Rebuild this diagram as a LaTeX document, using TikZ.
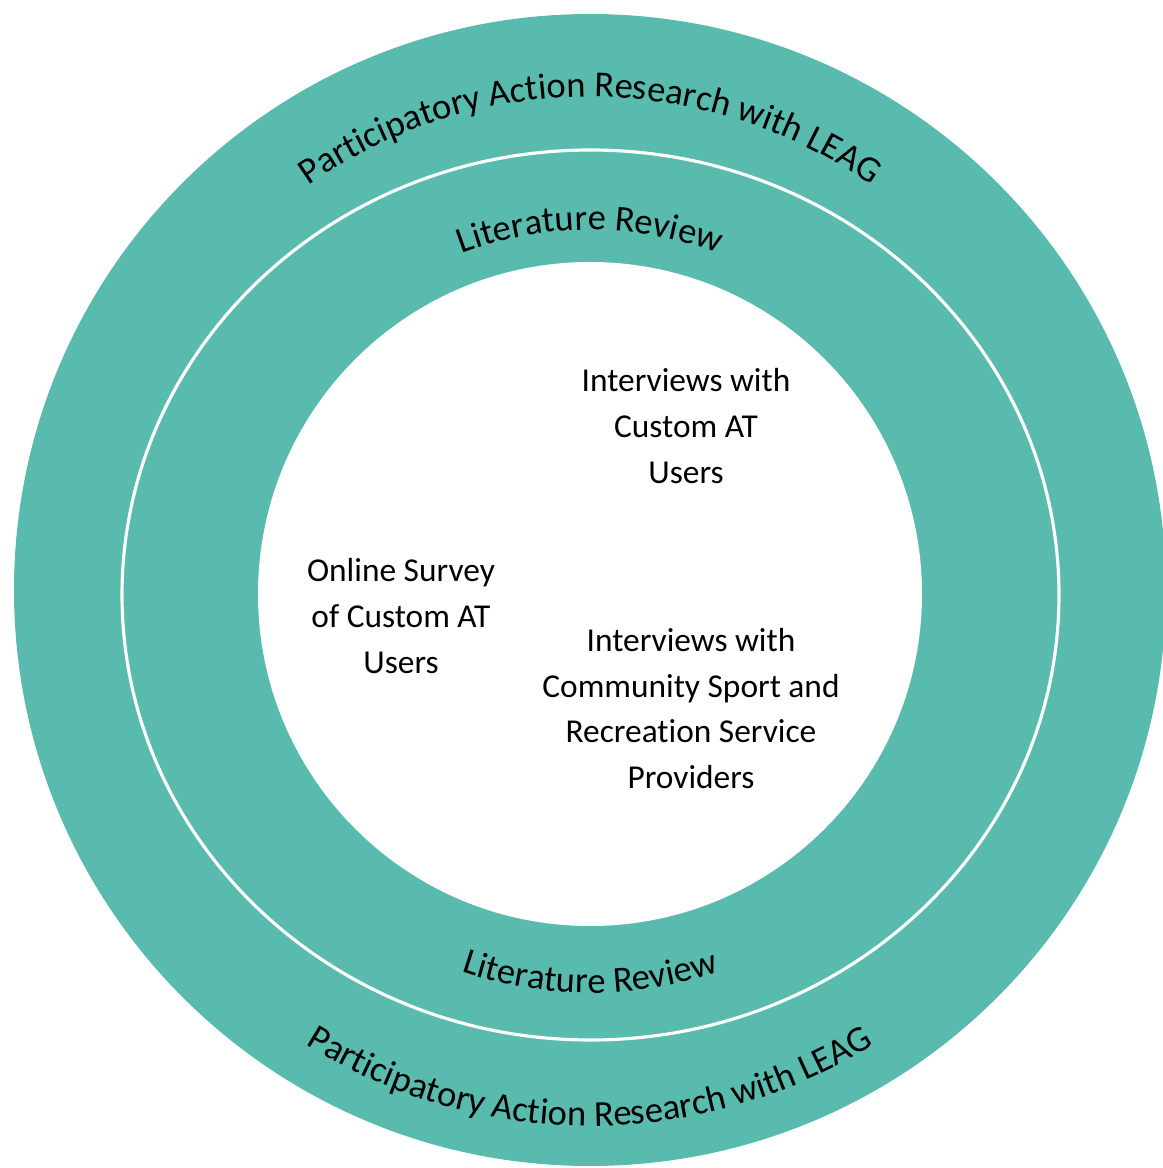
\documentclass[tikz,border=0pt]{standalone}
\usepackage{fontspec}
\setmainfont{Carlito}[Ligatures=NoCommon]
\usetikzlibrary{decorations.text}
\definecolor{ringteal}{RGB}{89,187,174}

\begin{document}
\begin{tikzpicture}[
	ringtext/.style={decorate, decoration={text along path, text align=center, text={|\fontsize{10.4}{12}\selectfont|#1}}},
	method/.style={align=center, font=\fontsize{9.5}{13}\selectfont}
	]
		%\draw [help lines] (0,0) grid (11.63,11.68);
		\useasboundingbox (0,0) rectangle (11.63,11.68);
		\coordinate (c) at (5.90,5.78);
		\coordinate (ci) at (5.90,5.74);
		%Anelli
		\fill [ringteal] (c) circle (5.76);
		\draw [white, line width=0.9pt] (5.905,5.73) ellipse (4.685 and 4.45);
		\fill [white] (ci) circle (3.32);
		%Testo esterno
		\path [ringtext={Participatory Action Research with LEAG}] (c) ++(175:4.93) arc (175:5:4.93);
		\path [ringtext={Participatory Action Research with LEAG}] (c) ++(185:5.36) arc (185:355:5.36);
		%Testo interno
		\path [ringtext={Literature Review}] (ci) ++(150:3.64) arc (150:30:3.64);
		\path [ringtext={Literature Review}] (ci) ++(210:3.99) arc (210:330:3.99);
		%Metodi
		\node [method] (interviewsat) at (6.86,7.42) {Interviews with\\Custom AT\\Users};
		\node [method] (survey) at (4.01,5.52) {Online Survey\\of Custom AT\\Users};
		\node [method] (interviewssport) at (6.91,4.595) {Interviews with\\Community Sport and\\Recreation Service\\Providers};
	\end{tikzpicture}
\end{document}
